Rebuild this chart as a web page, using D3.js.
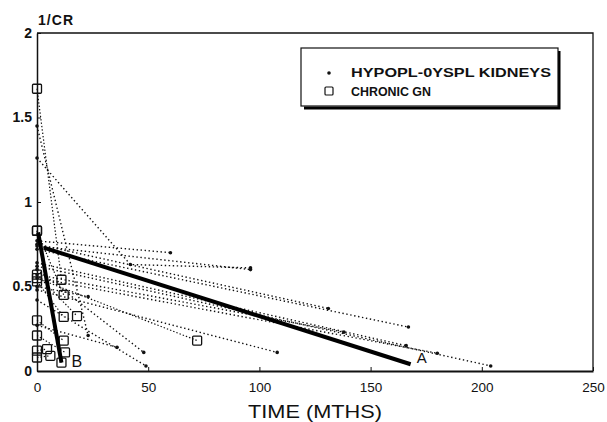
<!DOCTYPE html>
<html><head><meta charset="utf-8">
<script src="https://cdn.jsdelivr.net/npm/d3@7"></script>
<style>
html,body{margin:0;padding:0;background:#fff;}
svg{display:block;font-family:"Liberation Sans",Arial,sans-serif;}
</style></head>
<body>
<svg id="chart" width="607" height="422"></svg>
<script>
// ---- data ----
const xTicks = [0, 50, 100, 150, 200, 250];
const yTicks = [0, 0.5, 1, 1.5, 2];
const yTickLabels = ["0", "0.5", "1", "1.5", "2"];
const xTitle = "TIME (MTHS)";
const yTitle = "1/CR";
const legendLabels = ["HYPOPL-0YSPL KIDNEYS", "CHRONIC GN"];

// hypoplastic / dysplastic kidneys: each series = list of [months, 1/Cr]
const hypoplSeries = [
  [[0, 1.45], [23, 0.21]],
  [[0, 1.26], [42, 0.63], [96, 0.61]],
  [[0, 0.77], [60, 0.70]],
  [[0, 0.74], [96, 0.60]],
  [[0, 0.75], [131, 0.37]],
  [[0, 0.57], [138, 0.23]],
  [[0, 0.72], [167, 0.26]],
  [[0, 0.64], [166, 0.15]],
  [[0, 0.48], [108, 0.11]],
  [[0, 0.62], [204, 0.03]],
  [[0, 0.55], [180, 0.105]],
  [[0, 0.60], [48, 0.11]],
  [[0, 0.50], [23, 0.44]],
  [[0, 0.27], [36, 0.14]],
  [[0, 0.42], [49, 0.03]]
];

// chronic glomerulonephritis
const gnSeries = [
  [[0, 1.67], [11, 0.54]],
  [[0, 0.83], [12, 0.45]],
  [[0, 0.57], [18, 0.325]],
  [[0, 0.53], [12, 0.32]],
  [[0, 0.30], [12, 0.18]],
  [[0, 0.21], [12.6, 0.11]],
  [[0, 0.12], [4.5, 0.13]],
  [[0, 0.08], [6, 0.09]],
  [[0, 0.83], [11, 0.05]],
  [[0, 0.55], [72, 0.18]]
];

// regression lines
const lineA = [[3, 0.73], [168, 0.04]];
const lineB = [[0.5, 0.82], [11, 0.05]];

// ---- drawing ----
const svg = d3.select("#chart");
const x = d3.scaleLinear().domain([0, 250]).range([37, 593]);
const y = d3.scaleLinear().domain([0, 2]).range([371, 33]);
const line = d3.line().x(d => x(d[0])).y(d => y(d[1]));

// frame top & right
svg.append("path").attr("d", `M${x(0)},${y(2)}H${x(250)}V${y(0)}`)
  .attr("fill", "none").attr("stroke", "#111").attr("stroke-width", 1.3);

// axes
const xAxis = d3.axisBottom(x).tickValues(xTicks).tickFormat(d3.format("d"))
  .tickSizeInner(-4).tickSizeOuter(0).tickPadding(11);
const gx = svg.append("g").attr("transform", `translate(0,${y(0)})`).call(xAxis);
gx.select(".domain").attr("stroke", "#111").attr("stroke-width", 1.8);
gx.selectAll(".tick line").attr("stroke", "#111");
gx.selectAll("text").attr("font-size", 13.5).attr("fill", "#111")
  .attr("font-family", "Liberation Sans, Arial, sans-serif");

const yAxis = d3.axisLeft(y).tickValues(yTicks).tickFormat((d, i) => yTickLabels[i])
  .tickSizeInner(-4).tickSizeOuter(0).tickPadding(5);
const gy = svg.append("g").attr("transform", `translate(${x(0)},0)`).call(yAxis);
gy.select(".domain").attr("stroke", "#111").attr("stroke-width", 1.5);
gy.selectAll(".tick line").attr("stroke", "#111");
gy.selectAll("text").attr("font-size", 14).attr("font-weight", "bold").attr("fill", "#111")
  .attr("font-family", "Liberation Sans, Arial, sans-serif");

svg.append("text").attr("x", 38).attr("y", 25).attr("font-size", 14)
  .attr("font-weight", "bold").attr("fill", "#111")
  .attr("textLength", 35).attr("lengthAdjust", "spacing").text(yTitle);
svg.append("text").attr("x", 248).attr("y", 418)
  .attr("font-size", 19).attr("fill", "#111")
  .attr("textLength", 134).attr("lengthAdjust", "spacingAndGlyphs").text(xTitle);

// hypopl dotted lines
const gH = svg.append("g");
hypoplSeries.forEach(s => {
  gH.append("path").attr("d", line(s)).attr("fill", "none")
    .attr("stroke", "#111").attr("stroke-width", 1.4).attr("stroke-dasharray", "1.4,2.6");
  s.forEach(p => {
    gH.append("circle").attr("cx", x(p[0])).attr("cy", y(p[1])).attr("r", 1.8).attr("fill", "#111");
  });
});

// GN lines with squares
const gG = svg.append("g");
gnSeries.forEach(s => {
  gG.append("path").attr("d", line(s)).attr("fill", "none")
    .attr("stroke", "#111").attr("stroke-width", 1.2).attr("stroke-dasharray", "1.4,2");
});
gnSeries.forEach(s => {
  s.forEach(p => {
    gG.append("rect").attr("x", x(p[0]) - 4.5).attr("y", y(p[1]) - 4.5)
      .attr("width", 9).attr("height", 9).attr("rx", 1)
      .attr("fill", "none").attr("stroke", "#111").attr("stroke-width", 1.3);
  });
});

// regression lines
svg.append("path").attr("d", line(lineA)).attr("stroke", "#000").attr("stroke-width", 4).attr("fill", "none");
svg.append("path").attr("d", line(lineB)).attr("stroke", "#000").attr("stroke-width", 4).attr("fill", "none");
svg.append("text").attr("x", x(lineA[1][0]) + 6).attr("y", y(lineA[1][1]) - 1)
  .attr("font-size", 15).attr("fill", "#111").text("A");
svg.append("text").attr("x", x(lineB[1][0]) + 10).attr("y", 367)
  .attr("font-size", 16).attr("fill", "#111").text("B");

// legend
const lg = svg.append("g");
lg.append("path").attr("d", "M304,108H559V51").attr("fill", "none").attr("stroke", "#000").attr("stroke-width", 3);
lg.append("rect").attr("x", 301).attr("y", 48).attr("width", 257).attr("height", 58)
  .attr("fill", "#fff").attr("stroke", "#111").attr("stroke-width", 1.2);
lg.append("circle").attr("cx", 329).attr("cy", 73).attr("r", 1.8).attr("fill", "#111");
lg.append("rect").attr("x", 325).attr("y", 87).attr("width", 8).attr("height", 8).attr("rx", 1)
  .attr("fill", "none").attr("stroke", "#111").attr("stroke-width", 1.2);
lg.append("text").attr("x", 351).attr("y", 77).attr("font-size", 12.5).attr("font-weight", "bold")
  .attr("fill", "#111").attr("textLength", 200).attr("lengthAdjust", "spacingAndGlyphs").text(legendLabels[0]);
lg.append("text").attr("x", 351).attr("y", 96).attr("font-size", 12.5).attr("font-weight", "bold")
  .attr("fill", "#111").attr("textLength", 80).attr("lengthAdjust", "spacingAndGlyphs").text(legendLabels[1]);
</script>
</body></html>
